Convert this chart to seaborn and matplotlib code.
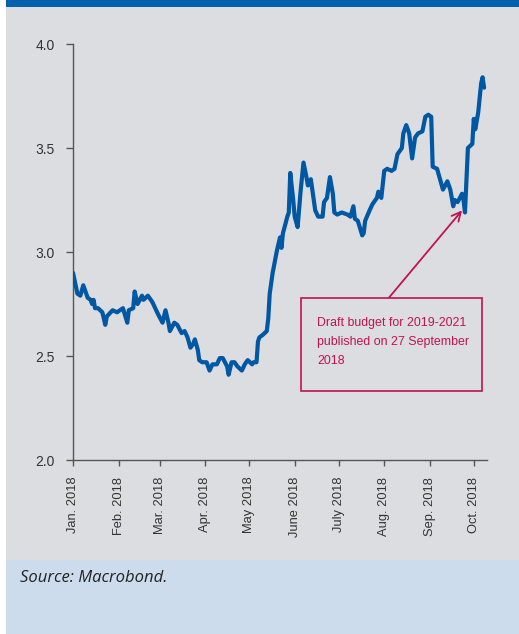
import matplotlib
matplotlib.use("Agg")
import matplotlib.pyplot as plt
from matplotlib.patches import Rectangle
import pandas as pd
import seaborn as sns

# 10-year government bond yield, %
dates = [
    "2018-01-01", "2018-01-04", "2018-01-06", "2018-01-08", "2018-01-11", "2018-01-13",
    "2018-01-14", "2018-01-15", "2018-01-16", "2018-01-18", "2018-01-21", "2018-01-23",
    "2018-01-24", "2018-01-28", "2018-01-31", "2018-02-02", "2018-02-04", "2018-02-07",
    "2018-02-08", "2018-02-11", "2018-02-12", "2018-02-14", "2018-02-17", "2018-02-18",
    "2018-02-21", "2018-02-24", "2018-02-28", "2018-03-03", "2018-03-05", "2018-03-07",
    "2018-03-08", "2018-03-11", "2018-03-13", "2018-03-16", "2018-03-18", "2018-03-20",
    "2018-03-22", "2018-03-24", "2018-03-25", "2018-03-27", "2018-03-28", "2018-03-30",
    "2018-04-02", "2018-04-04", "2018-04-06", "2018-04-09", "2018-04-11", "2018-04-13",
    "2018-04-16", "2018-04-17", "2018-04-19", "2018-04-21", "2018-04-23", "2018-04-26",
    "2018-04-28", "2018-04-30", "2018-05-03", "2018-05-04", "2018-05-06", "2018-05-07",
    "2018-05-08", "2018-05-10", "2018-05-13", "2018-05-14", "2018-05-15", "2018-05-17",
    "2018-05-20", "2018-05-22", "2018-05-23", "2018-05-24", "2018-05-27", "2018-05-28",
    "2018-05-29", "2018-05-31", "2018-06-01", "2018-06-03", "2018-06-05", "2018-06-07",
    "2018-06-09", "2018-06-10", "2018-06-12", "2018-06-15", "2018-06-17", "2018-06-20",
    "2018-06-21", "2018-06-23", "2018-06-25", "2018-06-27", "2018-06-28", "2018-06-30",
    "2018-07-03", "2018-07-07", "2018-07-09", "2018-07-11", "2018-07-12", "2018-07-14",
    "2018-07-17", "2018-07-18", "2018-07-19", "2018-07-22", "2018-07-24", "2018-07-27",
    "2018-07-28", "2018-07-29", "2018-07-30", "2018-08-01", "2018-08-03", "2018-08-06",
    "2018-08-08", "2018-08-10", "2018-08-13", "2018-08-14", "2018-08-16", "2018-08-18",
    "2018-08-20", "2018-08-22", "2018-08-24", "2018-08-27", "2018-08-29", "2018-08-31",
    "2018-09-02", "2018-09-03", "2018-09-06", "2018-09-08", "2018-09-10", "2018-09-13",
    "2018-09-15", "2018-09-17", "2018-09-18", "2018-09-20", "2018-09-23", "2018-09-24",
    "2018-09-25", "2018-09-27", "2018-09-30", "2018-10-01", "2018-10-02", "2018-10-04",
    "2018-10-06", "2018-10-07", "2018-10-08",
]
yields = [
    2.90, 2.80, 2.79, 2.84, 2.78, 2.77,
    2.75, 2.77, 2.73, 2.73, 2.71, 2.65,
    2.69, 2.72, 2.71, 2.72, 2.73, 2.66,
    2.72, 2.73, 2.81, 2.75, 2.79, 2.77,
    2.79, 2.76, 2.70, 2.66, 2.72, 2.66,
    2.62, 2.66, 2.65, 2.61, 2.62, 2.59,
    2.54, 2.56, 2.58, 2.53, 2.48, 2.47,
    2.47, 2.43, 2.46, 2.46, 2.49, 2.49,
    2.45, 2.41, 2.47, 2.47, 2.45, 2.43,
    2.46, 2.48, 2.46, 2.47, 2.47, 2.57,
    2.59, 2.60, 2.62, 2.68, 2.80, 2.90,
    3.01, 3.07, 3.02, 3.09, 3.17, 3.19,
    3.38, 3.25, 3.17, 3.12, 3.29, 3.43,
    3.36, 3.32, 3.35, 3.20, 3.17, 3.17,
    3.24, 3.26, 3.36, 3.28, 3.19, 3.18,
    3.19, 3.18, 3.17, 3.22, 3.16, 3.15,
    3.08, 3.09, 3.15, 3.20, 3.23, 3.26,
    3.29, 3.28, 3.26, 3.39, 3.40, 3.39,
    3.40, 3.47, 3.50, 3.57, 3.61, 3.57,
    3.45, 3.55, 3.57, 3.58, 3.65, 3.66,
    3.65, 3.41, 3.40, 3.35, 3.30, 3.34,
    3.30, 3.22, 3.25, 3.24, 3.28, 3.25,
    3.19, 3.50, 3.52, 3.64, 3.59, 3.67,
    3.81, 3.84, 3.79,
]

month_ticks = ["2018-01-01", "2018-02-01", "2018-03-01", "2018-04-01", "2018-05-01",
               "2018-06-01", "2018-07-01", "2018-08-01", "2018-09-01", "2018-10-01"]
month_labels = ["Jan. 2018", "Feb. 2018", "Mar. 2018", "Apr. 2018", "May 2018",
                "June 2018", "July 2018", "Aug. 2018", "Sep. 2018", "Oct. 2018"]
y_ticks = [2.0, 2.5, 3.0, 3.5, 4.0]

note_text = "Draft budget for 2019-2021\npublished on 27 September\n2018"
note_date = "2018-09-23"
note_value = 3.20
source_text = "Source: Macrobond."

df = pd.DataFrame({"date": pd.to_datetime(dates), "value": yields})

sns.set_style("ticks")
plt.rcParams["font.family"] = ["Liberation Sans", "DejaVu Sans"]

BG = "#dcdde0"
LINE = "#0057a3"
RED = "#c0134f"
AXC = "#555555"
TXT = "#333333"

fig = plt.figure(figsize=(5.19, 6.34), dpi=100, facecolor=BG)
W, H = 519, 634

# page furniture: white margin, blue header band, light-blue source panel
fig.patches.append(Rectangle((0, 0), 6 / W, 1, transform=fig.transFigure,
                             facecolor="white", edgecolor="none", zorder=0))
fig.patches.append(Rectangle((6 / W, 1 - 7 / H), 1, 7 / H, transform=fig.transFigure,
                             facecolor="#0061ad", edgecolor="none", zorder=0))
fig.patches.append(Rectangle((6 / W, 0), 1, (H - 560) / H, transform=fig.transFigure,
                             facecolor="#cddcec", edgecolor="none", zorder=0))

ax = fig.add_axes([73 / W, (H - 460) / H, (487 - 73) / W, (460 - 44) / H])
ax.set_facecolor(BG)

sns.lineplot(data=df, x="date", y="value", ax=ax, color=LINE, linewidth=3.0,
             solid_joinstyle="round", solid_capstyle="round", zorder=3)

ax.set_ylim(2.0, 4.0)
ax.set_xlim(pd.Timestamp("2018-01-01"), pd.Timestamp("2018-10-10"))
ax.set_yticks(y_ticks)
ax.set_yticklabels([f"{v:.1f}" for v in y_ticks], fontsize=10, color=TXT)
ax.set_xticks(pd.to_datetime(month_ticks))
ax.set_xticklabels(month_labels, rotation=90, fontsize=9.3, color=TXT)
ax.set_xlabel("")
ax.set_ylabel("")

for side in ("top", "right"):
    ax.spines[side].set_visible(False)
for side in ("left", "bottom"):
    ax.spines[side].set_color(AXC)
    ax.spines[side].set_linewidth(1.0)
ax.tick_params(axis="y", length=5, width=1, color=AXC, pad=8)
ax.tick_params(axis="x", length=4, width=1, color=AXC, pad=8)
ax.grid(False)

# annotation box with an arrow pointing at the late-September dip
ax.annotate("", xy=(pd.Timestamp(note_date), note_value),
            xytext=(pd.Timestamp("2018-07-31"), 2.745),
            arrowprops=dict(arrowstyle="->", color=RED, lw=1.3,
                            mutation_scale=16, shrinkA=0, shrinkB=0),
            zorder=4)
box = Rectangle((301 / W, (H - 391) / H), (482 - 301) / W, (391 - 298) / H,
                transform=fig.transFigure, facecolor=BG, edgecolor=RED,
                linewidth=1.2, zorder=2)
fig.patches.append(box)
fig.text(317 / W, 1 - 317 / H, note_text, fontsize=8.9, color=RED,
         va="top", ha="left", linespacing=1.75, zorder=6)

fig.text(20 / W, 1 - 578 / H, source_text, fontsize=12, style="italic",
         family=["Open Sans", "DejaVu Sans"], color="#222222", va="center", ha="left")

fig.savefig("out.png", dpi=100, facecolor=BG)
